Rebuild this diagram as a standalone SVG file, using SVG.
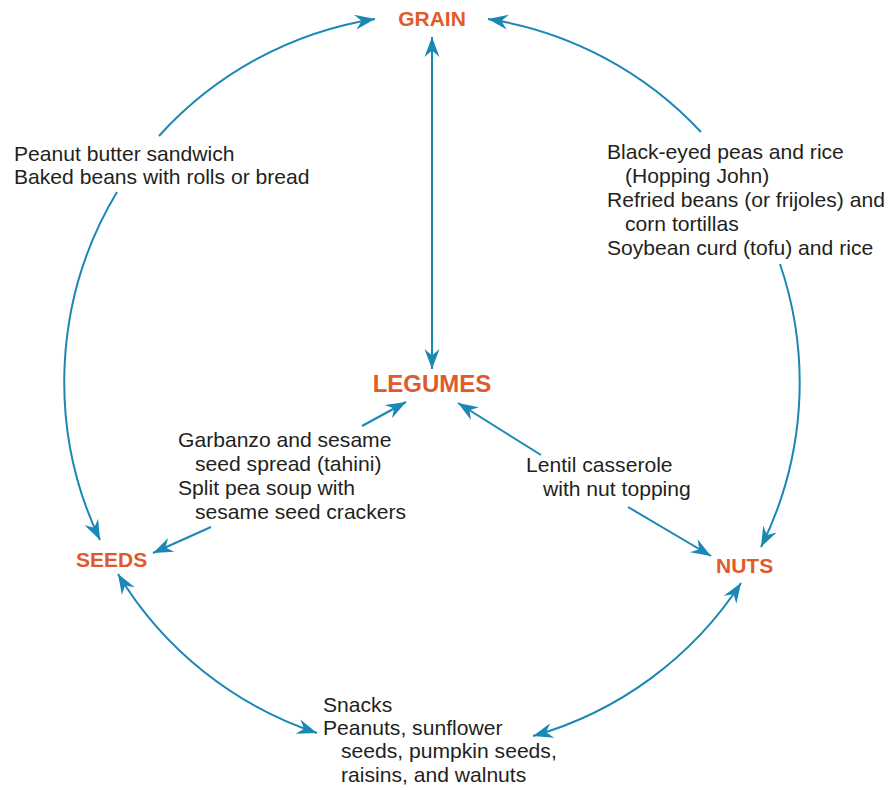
<svg xmlns="http://www.w3.org/2000/svg" width="889" height="790" viewBox="0 0 889 790">
  <style>
    .link { fill: none; stroke: #1a87b5; stroke-width: 2; }
    .node { font-family: "Liberation Sans", Arial, sans-serif; font-weight: bold; fill: #e05a2b; }
    .note { font-family: "Liberation Sans", Arial, sans-serif; font-size: 21.1px; fill: #231f20; }
  </style>
  <defs>
    <marker id="head" viewBox="-21 -8 23 16" refX="0" refY="0" markerWidth="23" markerHeight="16" markerUnits="userSpaceOnUse" orient="auto-start-reverse">
      <path d="M0,0 L-20,-7.5 L-13.5,0 L-20,7.5 Z" fill="#1a87b5"/>
    </marker>
  </defs>

  <rect width="889" height="790" fill="#ffffff"/>

  <!-- connectors: outer ring arcs (centre 432,383; r 368) and inner spokes -->
  <g id="connectors">
    <path class="link" d="M159,136 A368,368 0 0,1 375,19" marker-end="url(#head)"/>
    <path class="link" d="M701,132 A368,368 0 0,0 488,19" marker-end="url(#head)"/>
    <path class="link" d="M117,192 A368,368 0 0,0 100,540" marker-end="url(#head)"/>
    <path class="link" d="M780,264 A368,368 0 0,1 761,547" marker-end="url(#head)"/>
    <path class="link" d="M118,574 A368,368 0 0,0 317,733" marker-start="url(#head)" marker-end="url(#head)"/>
    <path class="link" d="M741,583 A368,368 0 0,1 533,736" marker-start="url(#head)" marker-end="url(#head)"/>
    <path class="link" d="M432,37 L432,369" marker-start="url(#head)" marker-end="url(#head)"/>
    <path class="link" d="M362,426 L406,402" marker-end="url(#head)"/>
    <path class="link" d="M211,527 L153,553" marker-end="url(#head)"/>
    <path class="link" d="M541,455 L458,403" marker-end="url(#head)"/>
    <path class="link" d="M628,507 L711,556" marker-end="url(#head)"/>
  </g>

  <!-- food groups -->
  <g id="grain">
    <text class="node" x="432" y="26" font-size="21" text-anchor="middle">GRAIN</text>
  </g>
  <g id="legumes">
    <text class="node" x="432" y="392" font-size="24" text-anchor="middle">LEGUMES</text>
  </g>
  <g id="seeds">
    <text class="node" x="76" y="567" font-size="21">SEEDS</text>
  </g>
  <g id="nuts">
    <text class="node" x="716" y="573" font-size="21">NUTS</text>
  </g>

  <!-- combination examples -->
  <g id="grain-legumes">
    <text class="note" x="14" y="161">Peanut butter sandwich</text>
    <text class="note" x="14" y="184">Baked beans with rolls or bread</text>
  </g>
  <g id="grain-nuts">
    <text class="note" x="607" y="159">Black-eyed peas and rice</text>
    <text class="note" x="625" y="183">(Hopping John)</text>
    <text class="note" x="607" y="207">Refried beans (or frijoles) and</text>
    <text class="note" x="625" y="231">corn tortillas</text>
    <text class="note" x="607" y="255">Soybean curd (tofu) and rice</text>
  </g>
  <g id="legumes-seeds">
    <text class="note" x="178" y="447">Garbanzo and sesame</text>
    <text class="note" x="195" y="471">seed spread (tahini)</text>
    <text class="note" x="178" y="495">Split pea soup with</text>
    <text class="note" x="195" y="519">sesame seed crackers</text>
  </g>
  <g id="legumes-nuts">
    <text class="note" x="526" y="472">Lentil casserole</text>
    <text class="note" x="543" y="496">with nut topping</text>
  </g>
  <g id="seeds-nuts">
    <text class="note" x="323" y="712">Snacks</text>
    <text class="note" x="323" y="735">Peanuts, sunflower</text>
    <text class="note" x="341" y="758">seeds, pumpkin seeds,</text>
    <text class="note" x="341" y="782">raisins, and walnuts</text>
  </g>
</svg>
